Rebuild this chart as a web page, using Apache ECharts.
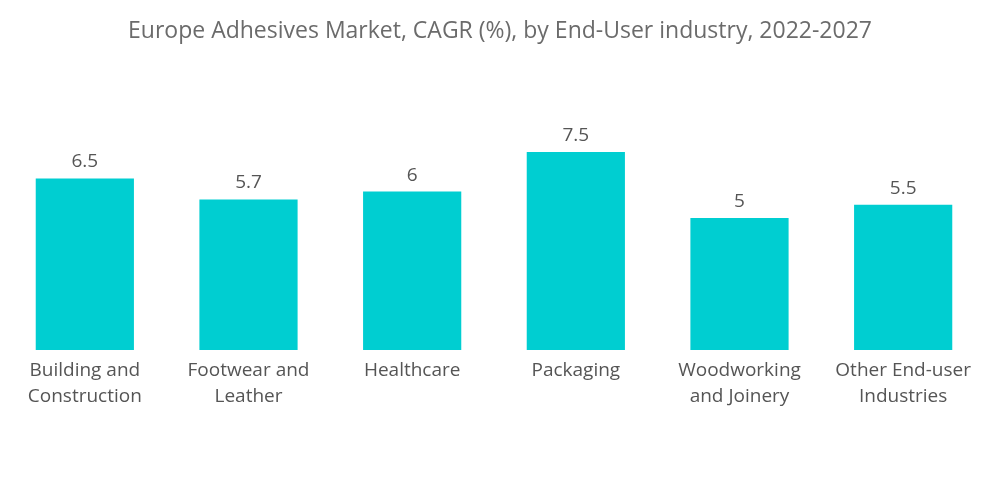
<!DOCTYPE html>
<html><head><meta charset="utf-8">
<script src="https://cdn.jsdelivr.net/npm/echarts@6/dist/echarts.min.js"></script>
<style>html,body{margin:0;padding:0;background:#fff}#c{width:1000px;height:504px}</style>
</head><body><div id="c"></div>
<script>
const categories = ["Building and\nConstruction","Footwear and\nLeather","Healthcare","Packaging","Woodworking\nand Joinery","Other End-user\nIndustries"];
const values = [6.5, 5.7, 6, 7.5, 5, 5.5];
const titleText = "Europe Adhesives Market, CAGR (%), by End-User industry, 2022-2027";
const chart = echarts.init(document.getElementById('c'));
chart.setOption({
  backgroundColor:'#fff',
  animation:false,
  title:{text:titleText,left:'center',top:15,textStyle:{fontFamily:'Open Sans',fontSize:23,fontWeight:'normal',color:'#6b6b6b'}},
  grid:{left:3,right:15,top:86,bottom:154},
  xAxis:{type:'category',data:categories,axisLine:{show:false},axisTick:{show:false},
    axisLabel:{interval:0,margin:8,fontFamily:'Open Sans',fontSize:19,lineHeight:26,color:'#555'}},
  yAxis:{type:'value',min:0,max:10,show:false,splitLine:{show:false}},
  series:[{type:'bar',data:values,barWidth:'60%',itemStyle:{color:'#00CED1'},
    label:{show:true,position:'top',distance:7,fontFamily:'Open Sans',fontSize:19,color:'#555'}}]
});
</script></body></html>
